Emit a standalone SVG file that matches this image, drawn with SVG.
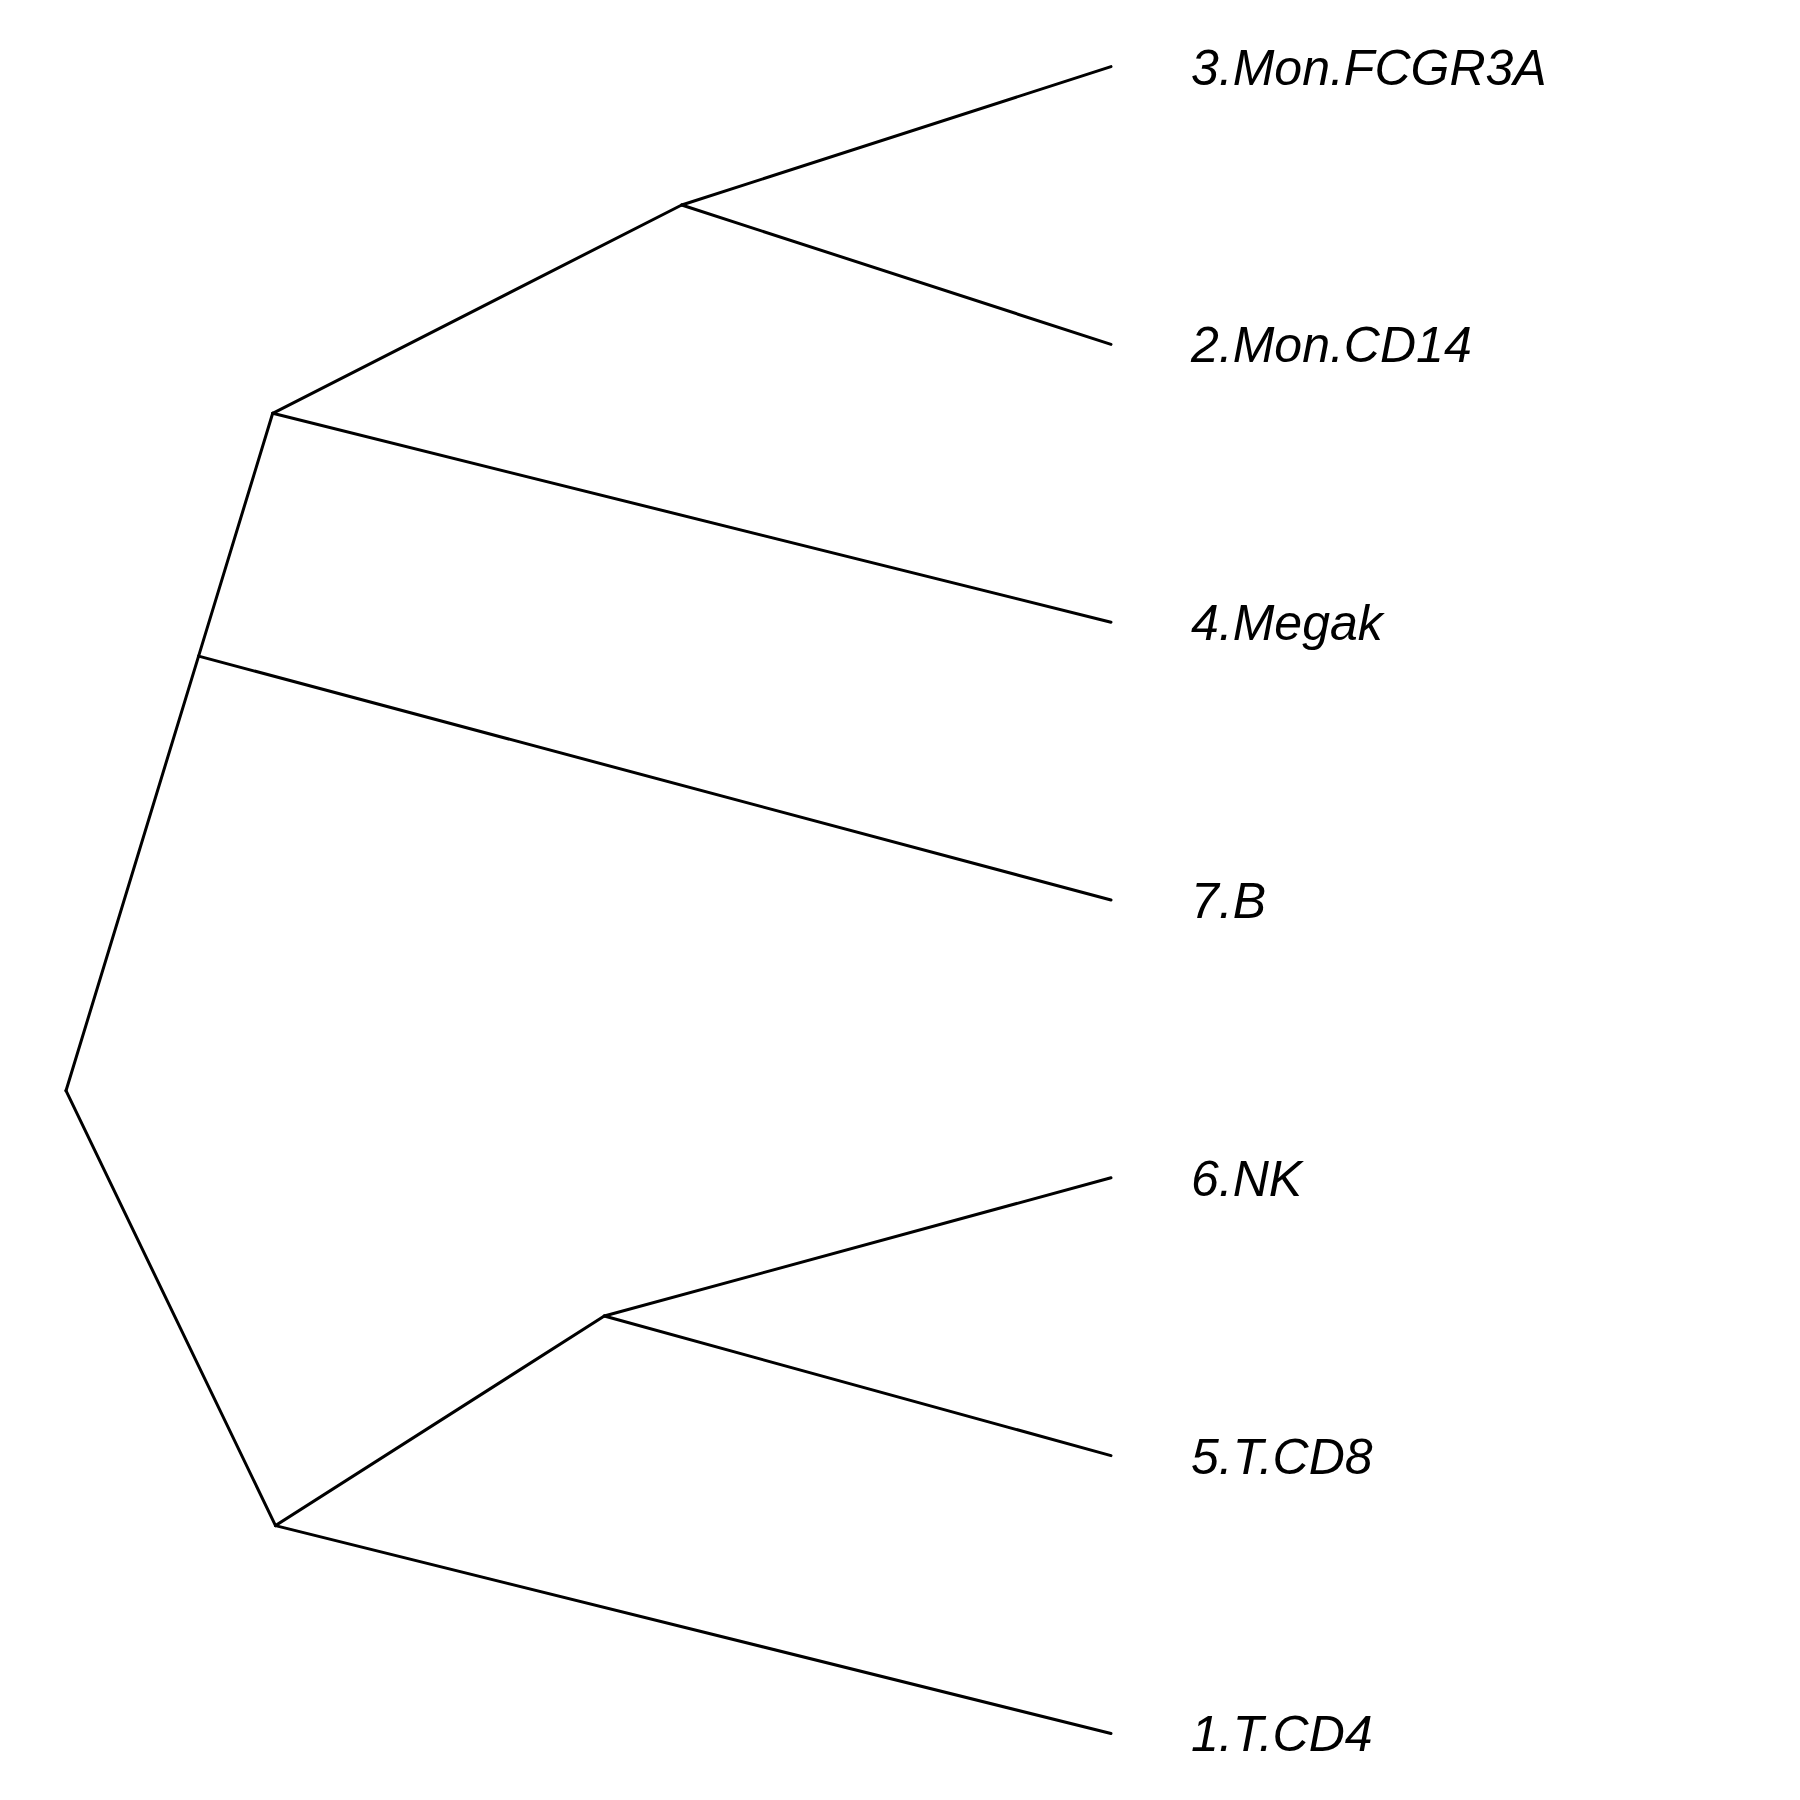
<svg xmlns="http://www.w3.org/2000/svg" width="1800" height="1800" viewBox="0 0 1800 1800">
<style>
.e{fill:none;stroke:#000;stroke-width:3;stroke-linecap:round;stroke-linejoin:round}
.l{font-family:"Liberation Sans",Arial,sans-serif;font-style:italic;font-size:50px;fill:#000}
</style>
<rect width="1800" height="1800" fill="#fff"/>
<g id="connectors" class="e">
<polyline points="66,1090.7 198.6,656.1 272.7,413.3"/>
<line x1="66" y1="1090.7" x2="275.5" y2="1525.6"/>
<line x1="272.7" y1="413.3" x2="681.7" y2="205"/>
<line x1="681.7" y1="205" x2="1111" y2="66.6"/>
<line x1="681.7" y1="205" x2="1111" y2="344.4"/>
<line x1="272.7" y1="413.3" x2="1111" y2="622.2"/>
<line x1="198.6" y1="656.1" x2="1111" y2="900"/>
<line x1="275.5" y1="1525.6" x2="604.3" y2="1316"/>
<line x1="604.3" y1="1316" x2="1111" y2="1177.8"/>
<line x1="604.3" y1="1316" x2="1111" y2="1455.6"/>
<line x1="275.5" y1="1525.6" x2="1111" y2="1733.5"/>
</g>
<g id="leaf3"><text class="l" x="1191" y="84.5">3.Mon.FCGR3A</text></g>
<g id="leaf2"><text class="l" x="1191" y="362.3">2.Mon.CD14</text></g>
<g id="leaf4"><text class="l" x="1191" y="640.1">4.Megak</text></g>
<g id="leaf7"><text class="l" x="1191" y="917.9">7.B</text></g>
<g id="leaf6"><text class="l" x="1191" y="1195.7">6.NK</text></g>
<g id="leaf5"><text class="l" x="1191" y="1473.5">5.T.CD8</text></g>
<g id="leaf1"><text class="l" x="1191" y="1751.3">1.T.CD4</text></g>
</svg>
